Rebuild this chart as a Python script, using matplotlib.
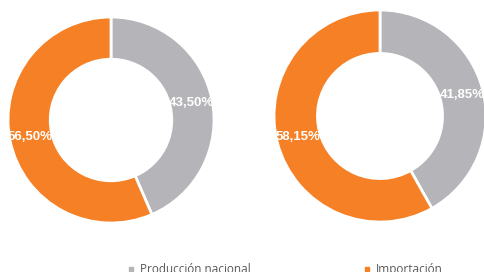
import matplotlib.pyplot as plt
from matplotlib.lines import Line2D

categories = ['Producción nacional', 'Importación']
left_values = [43.50, 56.50]
right_values = [41.85, 58.15]
colors = ['#B5B4B8', '#F58025']

W, H = 484, 272
fig = plt.figure(figsize=(W / 100, H / 100), dpi=100)


def donut(cx, cy, r, values):
    ax = fig.add_axes([(cx - r) / W, 1 - (cy + r) / H, 2 * r / W, 2 * r / H])
    wedges, texts = ax.pie(values, colors=colors, startangle=90, counterclock=False,
                           radius=1, wedgeprops=dict(width=0.41, edgecolor='white', linewidth=2),
                           labels=[f'{v:.2f}%'.replace('.', ',') for v in values],
                           labeldistance=0.8)
    for t in texts:
        t.set_ha('center')
        t.set_va('center')
        t.set_color('white')
        t.set_fontweight('bold')
        t.set_fontsize(9.5)
        t.set_family(['Liberation Sans', 'DejaVu Sans'])
    ax.set_xlim(-1, 1)
    ax.set_ylim(-1, 1)
    ax.set_aspect('equal')
    ax.axis('off')
    return ax


donut(111, 120, 103, left_values)
donut(380, 116, 106, right_values)

handles = [Line2D([], [], marker='s', linestyle='none', color=c, markersize=3.5) for c in colors]
leg = fig.legend(handles, categories, ncol=2, loc='center', bbox_to_anchor=(284 / W, 1 - 269.5 / H),
                 frameon=False, columnspacing=9.3, handletextpad=0.25, handlelength=1,
                 prop={'family': 'Open Sans', 'size': 8.5})
for t in leg.get_texts():
    t.set_color('#595959')

fig.savefig('out.png', dpi=100)
